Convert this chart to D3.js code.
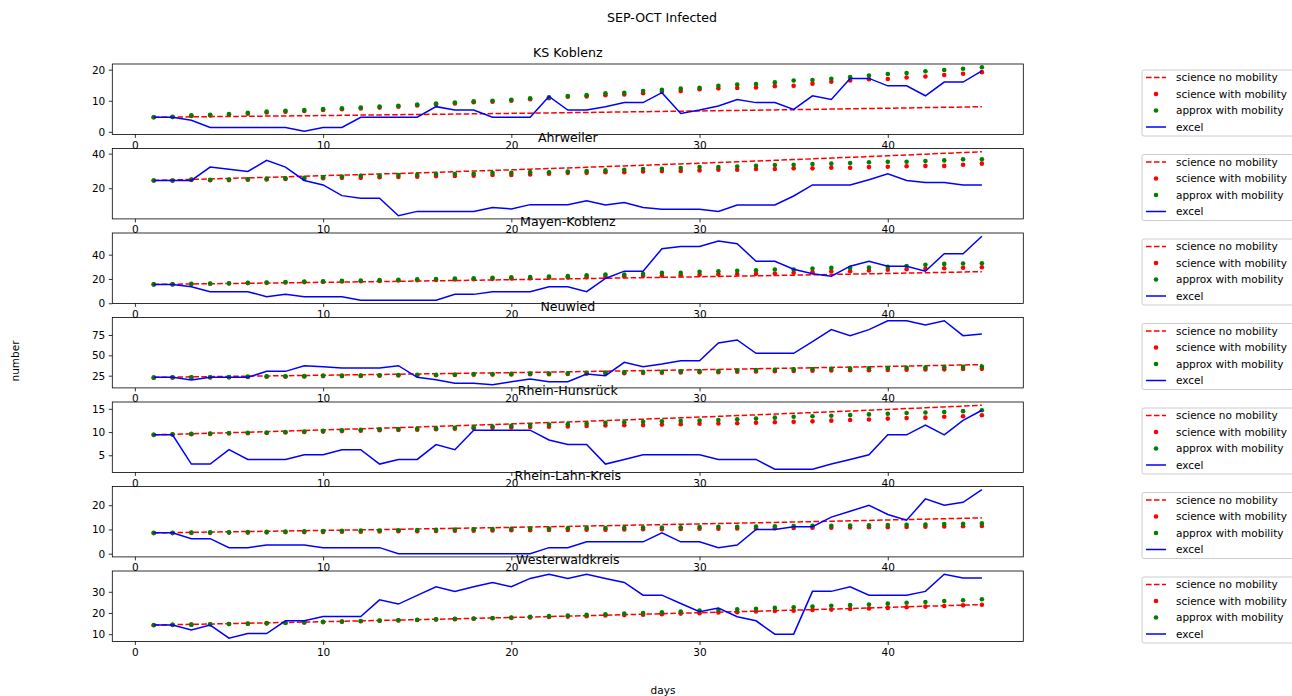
<!DOCTYPE html>
<html>
<head>
<meta charset="utf-8">
<title>SEP-OCT Infected</title>
<script src="https://cdnjs.cloudflare.com/ajax/libs/d3/7.8.5/d3.min.js"></script>
<style>
  body { margin: 0; background: #fff; }
  svg { font-family: "DejaVu Sans", sans-serif; }
</style>
</head>
<body>
<svg width="1292" height="696"></svg>
<script>
// days on the x axis
var days = [1,2,3,4,5,6,7,8,9,10,11,12,13,14,15,16,17,18,19,20,21,22,23,24,25,26,27,28,29,30,
            31,32,33,34,35,36,37,38,39,40,41,42,43,44,45];
var xTicks = [0, 10, 20, 30, 40];
var legendLabels = ["science no mobility", "science with mobility", "approx with mobility", "excel"];
var districts = ["KS Koblenz", "Ahrweiler", "Mayen-Koblenz", "Neuwied", "Rhein-Hunsrück", "Rhein-Lahn-Kreis", "Westerwaldkreis"];
var yTicks = [[0, 10, 20], [20, 40], [0, 20, 40], [25, 50, 75], [5, 10, 15], [0, 10, 20], [10, 20, 30]];

// KS Koblenz
var koblenzNoMob = [4.7,4.76,4.82,4.88,4.94,5.0,5.06,5.12,5.18,5.25,5.31,5.38,5.44,5.51,5.58,5.65,5.72,5.79,5.86,5.94,
  6.01,6.09,6.16,6.24,6.32,6.40,6.48,6.56,6.64,6.72,6.80,6.89,6.97,7.06,7.14,7.23,7.32,7.41,7.51,7.60,7.69,7.79,7.89,7.98,8.08];
var koblenzWithMob = [4.7,4.75,5.1,5.3,5.5,5.8,6.2,6.5,6.7,7.0,7.3,7.5,7.8,8.1,8.5,8.8,9.1,9.5,9.7,10.0,10.5,10.8,11.3,
  11.4,11.8,12.0,12.4,12.9,13.1,13.7,14.0,14.1,14.3,14.7,14.8,15.5,16.1,16.5,16.9,17.0,17.5,17.8,18.3,18.7,19.2];
var koblenzApprox = [4.7,4.8,5.3,5.5,5.7,6.1,6.5,6.8,7.0,7.3,7.6,7.8,8.1,8.4,8.8,9.1,9.4,9.8,10.0,10.3,10.8,11.1,11.5,
  11.8,12.4,12.6,13.1,13.5,13.9,14.2,14.8,15.2,15.4,15.9,16.5,16.7,17.1,17.6,18.1,18.6,18.9,19.5,19.9,20.3,20.8];
var koblenzExcel = [4.7,4.7,3.7,1.4,1.4,1.4,1.4,1.4,0.2,1.4,1.4,4.7,4.7,4.7,4.7,8.1,7.0,7.0,4.7,4.7,4.7,11.4,7.0,
  7.0,8.1,9.4,9.4,12.6,5.9,7.0,8.3,10.4,9.4,9.4,7.2,11.6,10.4,17.2,17.2,14.8,14.8,11.6,16.0,16.0,19.6];

// Ahrweiler
var ahrweilerNoMob = [24.5,24.79,25.09,25.38,25.68,25.99,26.29,26.60,26.92,27.24,27.56,27.89,28.22,28.55,28.89,29.23,
  29.58,29.93,30.28,30.64,31.00,31.37,31.74,32.12,32.50,32.88,33.27,33.67,34.07,34.47,34.88,35.29,35.71,36.13,36.56,
  36.99,37.43,37.87,38.32,38.77,39.23,39.70,40.17,40.64,41.12];
var ahrweilerWithMob = [24.5,24.4,24.8,24.6,24.7,24.9,25.0,25.3,25.5,25.8,26.0,26.0,26.3,26.5,26.7,27.0,27.1,27.2,27.6,
  27.7,28.0,28.4,28.9,28.9,29.3,29.3,29.7,29.9,30.0,30.3,30.7,30.7,31.1,31.1,31.5,31.5,31.8,31.8,32.2,32.4,32.7,32.9,
  32.9,33.6,34.2];
var ahrweilerApprox = [24.5,24.5,25.0,24.9,25.0,25.2,25.4,25.8,26.0,26.4,26.8,27.2,27.2,27.6,27.8,28.2,28.2,28.3,28.9,
  28.9,29.3,29.2,29.7,29.9,30.3,30.7,31.1,31.3,31.7,32.2,32.2,32.6,33.0,33.4,33.6,34.0,34.2,34.6,35.0,35.3,35.3,35.7,
  36.1,36.7,36.7];
var ahrweilerExcel = [24.5,24.5,24.5,32.2,30.9,29.7,36.1,32.2,24.5,21.9,15.7,14.2,14.2,4.1,6.6,6.6,6.6,6.6,8.9,8.0,
  10.5,10.5,10.5,12.8,10.3,11.7,8.9,7.8,7.8,7.8,6.6,10.3,10.3,10.3,15.5,21.9,21.9,21.9,24.9,28.3,24.5,23.3,23.3,21.9,21.9];

// Mayen-Koblenz
var mayenNoMob = [15.50,15.68,15.87,16.06,16.25,16.44,16.63,16.83,17.03,17.23,17.44,17.64,17.85,18.06,18.28,18.49,
  18.71,18.93,19.16,19.39,19.62,19.85,20.08,20.32,20.56,20.80,21.05,21.30,21.55,21.81,22.07,22.33,22.59,22.86,23.13,
  23.40,23.68,23.96,24.24,24.53,24.82,25.11,25.41,25.71,26.02];
var mayenWithMob = [15.5,15.5,15.9,16.0,16.3,16.6,16.8,17.1,17.4,17.6,17.9,18.1,18.4,18.7,19.0,19.2,19.5,19.7,20.1,
  20.4,20.6,21.0,21.2,21.4,21.8,22.3,22.6,22.6,23.1,23.4,23.8,24.0,24.2,24.5,25.1,25.6,26.2,26.4,27.0,27.6,28.0,28.4,
  28.8,29.2,29.6];
var mayenApprox = [15.5,15.6,16.0,16.2,16.5,16.8,17.1,17.4,17.8,18.0,18.4,18.6,19.0,19.3,19.7,19.9,20.3,20.5,21.0,
  21.4,21.6,22.0,22.3,23.1,23.7,23.7,24.2,25.0,25.0,25.9,26.4,26.7,27.2,27.8,27.8,28.6,29.1,29.1,29.4,29.9,30.7,31.6,
  32.4,32.7,32.9];
var mayenExcel = [15.5,15.5,13.6,9.5,9.5,9.5,5.4,7.3,5.4,5.4,5.4,2.5,2.5,2.5,2.5,2.5,7.3,7.3,9.5,9.5,9.5,13.6,13.6,
  9.5,20.4,26.4,26.4,44.9,46.8,46.8,51.2,49.0,34.6,34.6,28.0,24.2,22.3,30.5,34.6,30.5,30.5,26.4,40.8,40.8,55.2];

// Neuwied
var neuwiedNoMob = [23.00,23.27,23.55,23.83,24.11,24.40,24.68,24.98,25.27,25.57,25.88,26.18,26.49,26.80,27.12,27.44,
  27.77,28.10,28.43,28.77,29.11,29.45,29.80,30.15,30.51,30.87,31.24,31.61,31.98,32.36,32.74,33.13,33.52,33.92,34.32,
  34.73,35.14,35.55,35.97,36.40,36.83,37.27,37.71,38.15,38.61];
var neuwiedWithMob = [22.6,22.6,22.8,22.9,23.0,23.4,23.7,23.8,24.0,24.5,24.5,24.7,24.9,25.2,25.5,25.6,25.8,26.2,26.3,
  26.5,26.8,26.9,27.1,27.5,27.8,28.0,28.2,28.6,28.9,29.2,29.3,29.8,30.1,30.4,30.7,31.0,31.3,31.6,31.8,32.0,32.3,32.6,
  32.8,33.2,33.4];
var neuwiedApprox = [22.6,23.0,23.0,23.0,23.2,23.8,24.2,24.2,24.4,25.0,25.0,25.2,25.4,25.8,26.2,26.2,26.5,27.0,27.0,
  27.2,27.5,27.6,27.9,28.4,28.8,29.1,29.4,29.9,30.3,30.6,30.8,31.4,31.9,32.3,32.7,33.1,33.5,33.9,34.2,34.4,34.8,35.1,
  35.3,35.8,36.1];
var neuwiedExcel = [23.0,23.0,19.7,23.0,23.0,23.0,30.3,30.3,37.3,36.1,34.4,34.4,34.4,37.3,23.0,20.1,15.6,15.6,13.9,
  17.6,20.9,17.6,17.6,27.0,25.0,41.4,36.1,39.3,43.4,43.4,65.2,68.9,52.5,52.5,52.5,66.8,81.6,74.2,81.6,92.6,92.6,87.3,
  92.6,74.2,76.2];

// Rhein-Hunsrück
var hunsrueckNoMob = [9.40,9.51,9.62,9.74,9.85,9.97,10.09,10.21,10.33,10.45,10.58,10.70,10.83,10.95,11.08,11.22,11.35,
  11.48,11.62,11.76,11.90,12.04,12.18,12.32,12.47,12.62,12.77,12.92,13.07,13.22,13.38,13.54,13.70,13.86,14.03,14.19,
  14.36,14.53,14.70,14.88,15.05,15.23,15.41,15.59,15.78];
var hunsrueckWithMob = [9.4,9.45,9.55,9.6,9.7,9.75,9.8,9.9,10.0,10.1,10.2,10.3,10.4,10.45,10.5,10.6,10.7,10.8,10.9,
  11.0,11.1,11.15,11.2,11.3,11.4,11.45,11.5,11.6,11.7,11.8,11.85,11.9,12.0,12.1,12.2,12.3,12.45,12.6,12.7,12.9,13.0,
  13.1,13.3,13.4,13.6];
var hunsrueckApprox = [9.4,9.5,9.6,9.7,9.8,9.85,9.9,10.0,10.1,10.25,10.4,10.5,10.6,10.65,10.7,10.8,10.9,11.05,11.2,
  11.35,11.5,11.6,11.7,11.85,12.0,12.1,12.2,12.3,12.4,12.5,12.6,12.75,12.9,13.1,13.3,13.4,13.5,13.65,13.8,13.95,14.1,
  14.2,14.3,14.5,14.7];
var hunsrueckExcel = [9.4,9.4,3.1,3.1,6.2,4.1,4.1,4.1,5.1,5.1,6.2,6.2,3.1,4.1,4.1,7.3,6.2,10.4,10.4,10.4,10.4,8.3,
  7.3,7.3,3.1,4.1,5.1,5.1,5.1,5.1,4.1,4.1,4.1,2.0,2.0,2.0,3.1,4.1,5.1,9.4,9.4,11.5,9.4,12.5,14.7];

// Rhein-Lahn-Kreis
var lahnNoMob = [8.60,8.71,8.82,8.93,9.04,9.15,9.26,9.37,9.48,9.61,9.72,9.84,9.95,10.08,10.21,10.34,10.47,10.59,10.72,
  10.87,11.00,11.14,11.27,11.42,11.56,11.71,11.86,12.00,12.15,12.30,12.44,12.61,12.75,12.92,13.06,13.23,13.39,13.56,
  13.74,13.91,14.07,14.25,14.44,14.60,14.78];
var lahnWithMob = [8.5,8.5,8.6,8.6,8.7,8.7,8.8,8.9,8.9,9.0,9.1,9.1,9.2,9.3,9.3,9.4,9.5,9.5,9.6,9.7,9.7,9.8,9.8,9.9,
  9.9,10.0,10.1,10.1,10.2,10.3,10.3,10.4,10.5,10.5,10.6,10.7,10.7,10.8,10.9,10.9,11.0,11.1,11.2,11.3,11.4];
var lahnApprox = [8.6,8.6,8.7,8.8,8.8,8.9,9.0,9.1,9.2,9.3,9.4,9.5,9.6,9.7,9.8,9.9,10.0,10.1,10.2,10.3,10.4,10.4,10.5,
  10.6,10.6,10.7,10.8,10.8,10.9,11.0,11.1,11.1,11.2,11.3,11.4,11.5,11.5,11.6,11.7,11.8,11.9,12.0,12.2,12.3,12.5];
var lahnExcel = [8.6,8.6,6.2,6.2,2.5,2.5,3.6,3.6,3.6,2.5,2.5,2.5,2.5,0,0,0,0,0,0,0,0,2.5,2.5,4.9,4.9,4.9,4.9,8.6,
  4.9,4.9,2.5,3.6,10.0,10.0,11.1,11.1,15.1,17.5,20.0,16.2,13.8,22.6,20.0,21.2,26.4];

// Westerwaldkreis
var westerwaldNoMob = [14.30,14.47,14.64,14.81,14.99,15.17,15.35,15.53,15.71,15.90,16.09,16.28,16.47,16.67,16.86,
  17.06,17.26,17.47,17.68,17.89,18.10,18.31,18.53,18.75,18.97,19.19,19.42,19.65,19.88,20.12,20.36,20.60,20.84,21.09,
  21.34,21.59,21.85,22.11,22.37,22.63,22.90,23.17,23.44,23.72,24.00];
var westerwaldWithMob = [14.2,14.4,14.5,14.7,14.8,15.0,15.2,15.4,15.5,15.7,15.9,16.1,16.3,16.5,16.7,16.9,17.1,17.3,
  17.5,17.7,17.9,18.1,18.3,18.5,18.8,19.0,19.2,19.4,19.7,19.9,20.2,20.4,20.7,20.9,21.1,21.4,21.6,21.9,22.1,22.4,22.7,
  23.0,23.3,23.6,23.9];
var westerwaldApprox = [14.3,14.4,14.5,14.7,14.8,14.9,15.1,15.3,15.5,15.8,16.0,16.2,16.4,16.6,16.8,17.0,17.2,17.4,
  17.6,17.9,18.2,18.5,18.8,19.1,19.4,19.7,20.0,20.3,20.7,21.1,21.4,21.7,22.0,22.4,22.7,23.0,23.4,23.7,24.0,24.4,24.8,
  25.2,25.6,26.0,26.5];
var westerwaldExcel = [14.3,14.3,12.0,14.3,8.1,10.3,10.3,16.3,16.3,18.3,18.3,18.3,26.2,24.2,28.3,32.4,30.2,32.4,34.4,
  32.4,36.3,38.3,36.3,38.3,36.3,34.4,28.4,28.4,24.5,20.6,22.3,18.2,16.3,10.0,10.0,30.2,30.2,32.4,28.4,28.4,28.4,30.2,
  38.3,36.5,36.5];

var noMobility = [koblenzNoMob, ahrweilerNoMob, mayenNoMob, neuwiedNoMob, hunsrueckNoMob, lahnNoMob, westerwaldNoMob];
var withMobility = [koblenzWithMob, ahrweilerWithMob, mayenWithMob, neuwiedWithMob, hunsrueckWithMob, lahnWithMob, westerwaldWithMob];
var approxMobility = [koblenzApprox, ahrweilerApprox, mayenApprox, neuwiedApprox, hunsrueckApprox, lahnApprox, westerwaldApprox];
var excelData = [koblenzExcel, ahrweilerExcel, mayenExcel, neuwiedExcel, hunsrueckExcel, lahnExcel, westerwaldExcel];

var svg = d3.select("svg");
var left = 112.3, right = 1023.3;
var firstTop = 64, panelH = 70.4, gap = 14.1;
var small = 10.5, big = 12.6;

var x = d3.scaleLinear().domain([-1.2, 47.2]).range([left, right]);

svg.append("text").attr("x", 662).attr("y", 22).attr("text-anchor", "middle")
  .attr("font-size", big).text("SEP-OCT Infected");
svg.append("text").attr("x", 663).attr("y", 694).attr("text-anchor", "middle")
  .attr("font-size", small).text("days");
svg.append("text").attr("transform", "translate(19,361) rotate(-90)").attr("text-anchor", "middle")
  .attr("font-size", small).text("number");

districts.forEach(function(name, i) {
  var top = firstTop + i * (panelH + gap);
  var bottom = top + panelH;
  var all = noMobility[i].concat(withMobility[i], approxMobility[i], excelData[i]);
  var lo = d3.min(all), hi = d3.max(all), pad = (hi - lo) * 0.05;
  var y = d3.scaleLinear().domain([lo - pad, hi + pad]).range([bottom, top]);

  var g = svg.append("g");

  var xAxis = g.append("g").attr("transform", "translate(0," + bottom + ")")
    .call(d3.axisBottom(x).tickValues(xTicks).tickSize(3.5).tickPadding(3.5).tickSizeOuter(0));
  var yAxis = g.append("g").attr("transform", "translate(" + left + ",0)")
    .call(d3.axisLeft(y).tickValues(yTicks[i]).tickSize(3.5).tickPadding(3.5).tickSizeOuter(0));
  [xAxis, yAxis].forEach(function(a) {
    a.select(".domain").remove();
    a.attr("font-family", null).attr("font-size", small);
    a.selectAll("line").attr("stroke", "#000").attr("stroke-width", 0.8);
    a.selectAll("text").attr("fill", "#000");
  });

  var clipId = "clip" + i;
  g.append("clipPath").attr("id", clipId).append("rect")
    .attr("x", left).attr("y", top).attr("width", right - left).attr("height", panelH);
  var plot = g.append("g").attr("clip-path", "url(#" + clipId + ")");

  var line = d3.line().x(function(d, j) { return x(days[j]); }).y(function(d) { return y(d); });

  plot.append("path").datum(noMobility[i]).attr("d", line)
    .attr("fill", "none").attr("stroke", "#ff0000").attr("stroke-width", 1.5)
    .attr("stroke-dasharray", "5.55,2.4");

  plot.selectAll(".red").data(withMobility[i]).enter().append("circle")
    .attr("cx", function(d, j) { return x(days[j]); }).attr("cy", function(d) { return y(d); })
    .attr("r", 2.3).attr("fill", "#ff0000");

  plot.selectAll(".green").data(approxMobility[i]).enter().append("circle")
    .attr("cx", function(d, j) { return x(days[j]); }).attr("cy", function(d) { return y(d); })
    .attr("r", 2.3).attr("fill", "#008000");

  plot.append("path").datum(excelData[i]).attr("d", line)
    .attr("fill", "none").attr("stroke", "#0000ff").attr("stroke-width", 1.5);

  g.append("rect").attr("x", left).attr("y", top).attr("width", right - left).attr("height", panelH)
    .attr("fill", "none").attr("stroke", "#000").attr("stroke-width", 0.8);

  g.append("text").attr("x", (left + right) / 2).attr("y", top - 7).attr("text-anchor", "middle")
    .attr("font-size", big).text(name);

  // legend
  var lg = svg.append("g").attr("transform", "translate(1142," + (top + 6) + ")");
  lg.append("rect").attr("width", 170).attr("height", 66).attr("rx", 2)
    .attr("fill", "#fff").attr("fill-opacity", 0.8).attr("stroke", "#cccccc").attr("stroke-width", 1);
  var rows = [7.5, 24, 40.5, 57];
  lg.append("line").attr("x1", 4).attr("x2", 24).attr("y1", rows[0]).attr("y2", rows[0])
    .attr("stroke", "#ff0000").attr("stroke-width", 1.5).attr("stroke-dasharray", "5.55,2.4");
  lg.append("circle").attr("cx", 14).attr("cy", rows[1]).attr("r", 2.3).attr("fill", "#ff0000");
  lg.append("circle").attr("cx", 14).attr("cy", rows[2]).attr("r", 2.3).attr("fill", "#008000");
  lg.append("line").attr("x1", 4).attr("x2", 24).attr("y1", rows[3]).attr("y2", rows[3])
    .attr("stroke", "#0000ff").attr("stroke-width", 1.5);
  legendLabels.forEach(function(label, k) {
    lg.append("text").attr("x", 34).attr("y", rows[k] + 3.8).attr("font-size", small).text(label);
  });
});
</script>
</body>
</html>
